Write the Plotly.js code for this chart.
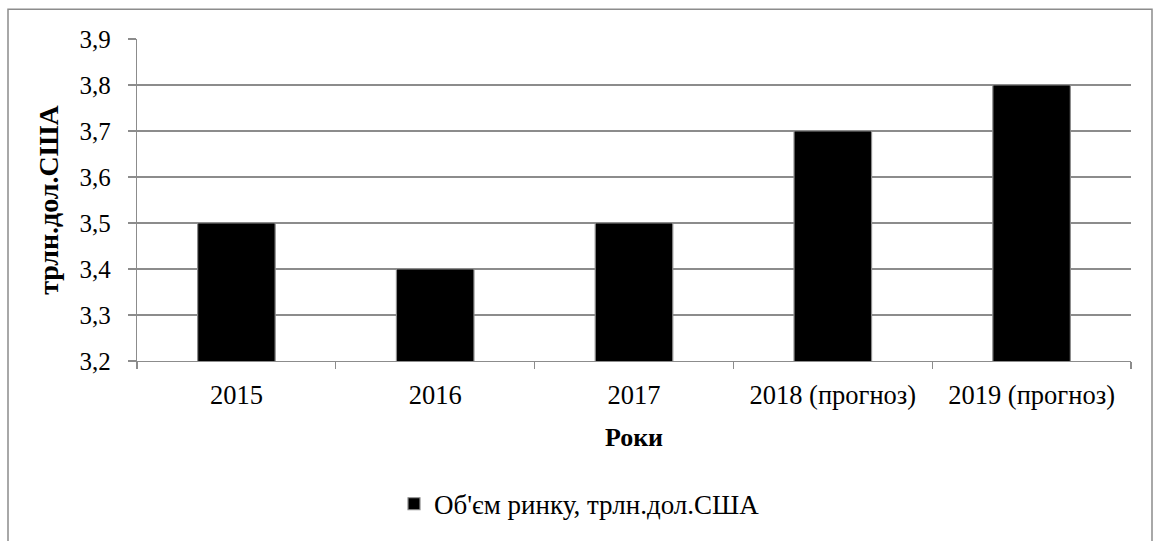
<!DOCTYPE html>
<html>
<head>
<meta charset="utf-8">
<script src="https://cdn.plot.ly/plotly-3.0.1.min.js"></script>
<style>html,body{margin:0;padding:0;background:#fff;}#chart{width:1153px;height:541px;}</style>
</head>
<body>
<div id="chart"></div>
<script>
const categories = ["2015", "2016", "2017", "2018 (прогноз)", "2019 (прогноз)"];
const marketVolume = [3.5, 3.4, 3.5, 3.7, 3.8];
const seriesName = "Об'єм ринку, трлн.дол.США";
const yTitle = "трлн.дол.США";
const xTitle = "Роки";

const L = 137, R = 1131, T = 39, B = 365;
const px = v => (v - L) / (R - L);
const py = v => (B - v) / (B - T);
const font = "'Liberation Serif', 'Times New Roman', serif";
const grey = "#8c8c8c";

Plotly.newPlot("chart", [{
  type: "bar",
  x: categories,
  y: marketVolume,
  name: seriesName,
  marker: {color: "#000000", line: {color: grey, width: 1.2}},
  showlegend: true
}], {
  width: 1153, height: 541,
  margin: {l: L, r: 1153 - R, t: T, b: 541 - B},
  paper_bgcolor: "#fff", plot_bgcolor: "#fff",
  separators: ",.",
  font: {family: font, size: 24, color: "#000"},
  bargap: 0.61,
  xaxis: {
    type: "category",
    showline: true, linecolor: grey, linewidth: 1.2,
    ticks: "outside", tickson: "boundaries", ticklen: 7, tickcolor: grey, tickwidth: 1.2,
    showgrid: false,
    tickfont: {family: font, size: 26.5},
    ticklabelstandoff: 10,
    title: {text: "<b>" + xTitle + "</b>", font: {family: font, size: 26}, standoff: 18},
    automargin: false
  },
  yaxis: {
    range: [3.2, 3.9], dtick: 0.1, tick0: 3.2, tickformat: ".1f",
    showline: true, linecolor: grey, linewidth: 1.2,
    ticks: "outside", ticklen: 8, tickcolor: grey, tickwidth: 1.2,
    showgrid: true, gridcolor: grey, gridwidth: 1.2,
    zeroline: false,
    tickfont: {family: font, size: 25},
    ticklabelstandoff: 12,
    title: {text: "<b>" + yTitle + "</b>", font: {family: font, size: 28}, standoff: 12},
    automargin: false
  },
  legend: {
    orientation: "h", x: px(394), xanchor: "left", y: py(510), yanchor: "middle",
    font: {family: font, size: 27}, itemwidth: 30, bgcolor: "rgba(0,0,0,0)"
  },
  shapes: [{
    type: "rect", xref: "paper", yref: "paper",
    x0: px(8), x1: px(1152), y0: py(560), y1: py(9),
    line: {color: grey, width: 1.5}, fillcolor: "rgba(0,0,0,0)", layer: "below"
  }]
}, {displayModeBar: false, staticPlot: true});
</script>
</body>
</html>
